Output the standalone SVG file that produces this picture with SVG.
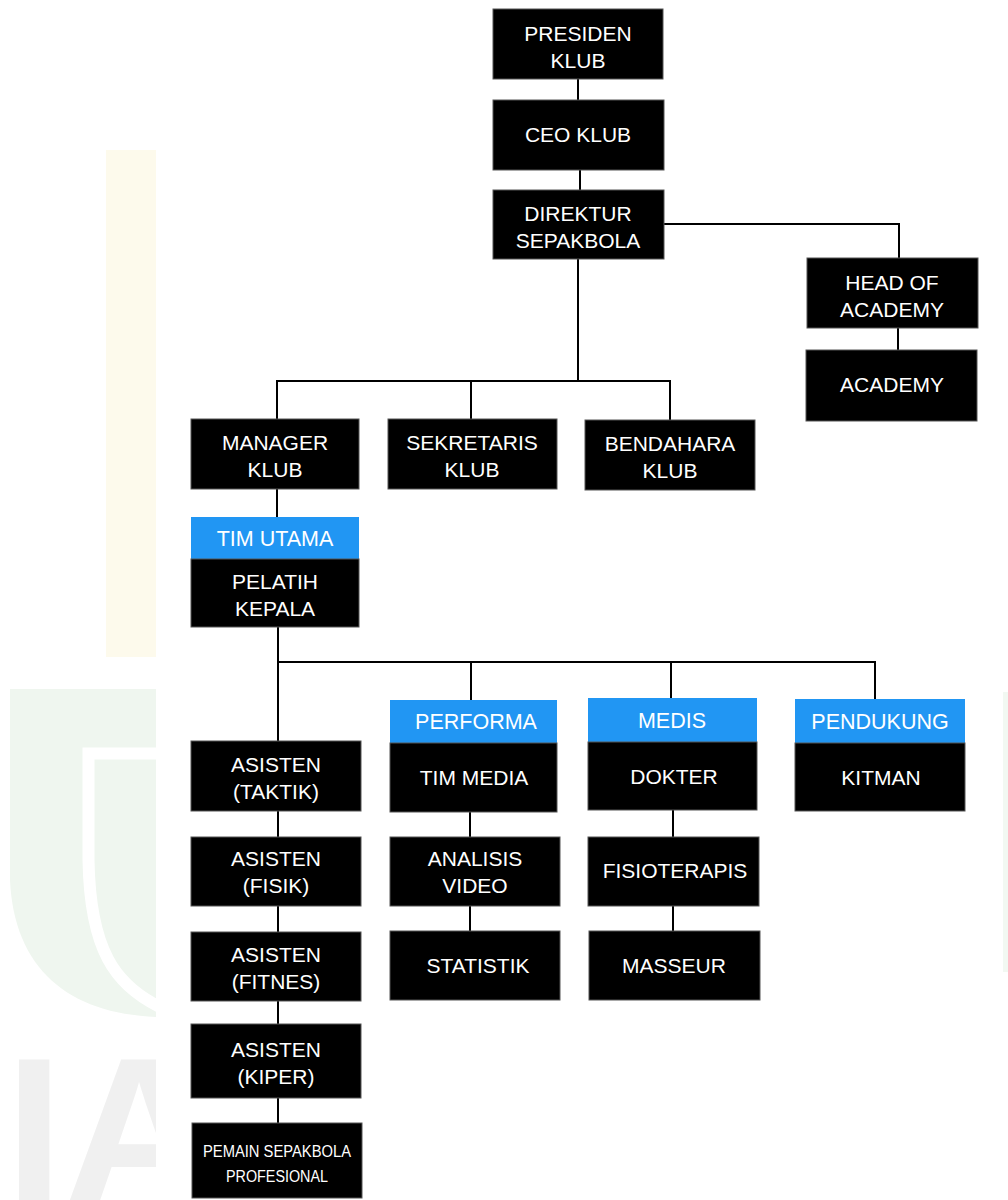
<svg xmlns="http://www.w3.org/2000/svg" width="1008" height="1200" viewBox="0 0 1008 1200">
<defs>
<style>
.box{fill:#000;stroke:#555;stroke-width:1}
.hdr{fill:#2196F3}
.t{font-family:"Liberation Sans",Arial,sans-serif;font-size:21px;fill:#fff;text-anchor:middle}
.h{font-family:"Liberation Sans",Arial,sans-serif;font-size:21.5px;fill:#fff;text-anchor:middle}
.c{fill:none;stroke:#000;stroke-width:2}
</style>
<clipPath id="wm"><rect x="0" y="0" width="156" height="1200"/></clipPath>
</defs>
<rect width="1008" height="1200" fill="#fff"/>
<g id="watermark">
<rect x="106" y="150" width="50" height="507" fill="#fdfaec"/>
<g clip-path="url(#wm)">
<path d="M10,689 H160 V1017 C70,1015 14,970 10,880 Z" fill="#eff6ef"/>
<path d="M160,753.5 H88.5 V860 C90,950 115,985 160,1007" fill="none" stroke="#fff" stroke-width="12"/>
<text x="5" y="1204" font-family="Liberation Sans,Arial,sans-serif" font-weight="bold" font-size="210" fill="#f0f0f0">IA</text>
</g>
<rect x="1003" y="692" width="5" height="280" fill="#f2f8f2"/>
</g>
<g id="connectors">
<path class="c" d="M578,79 V100"/>
<path class="c" d="M580,170 V190"/>
<path class="c" d="M578,259 V381"/>
<path class="c" d="M664,224 H899 V258"/>
<path class="c" d="M898,328 V350"/>
<path class="c" d="M277,419 V381 H670 V420"/>
<path class="c" d="M471,381 V419"/>
<path class="c" d="M277,489 V517"/>
<path class="c" d="M278,627 V741"/>
<path class="c" d="M278,662 H875 V699"/>
<path class="c" d="M471,662 V700"/>
<path class="c" d="M671,662 V698"/>
<path class="c" d="M278,811 V837"/>
<path class="c" d="M278,906 V932"/>
<path class="c" d="M278,1001 V1024"/>
<path class="c" d="M278,1098 V1123"/>
<path class="c" d="M470,812 V837"/>
<path class="c" d="M470,906 V931"/>
<path class="c" d="M673,810 V837"/>
<path class="c" d="M673,906 V931"/>
</g>
<g id="presiden"><rect class="box" x="493" y="9" width="170" height="70"/><text class="t" x="578" y="41">PRESIDEN</text><text class="t" x="578" y="68">KLUB</text></g>
<g id="ceo"><rect class="box" x="493" y="100" width="171" height="70"/><text class="t" x="578" y="142">CEO KLUB</text></g>
<g id="direktur"><rect class="box" x="493" y="190" width="171" height="69"/><text class="t" x="578" y="221">DIREKTUR</text><text class="t" x="578" y="248">SEPAKBOLA</text></g>
<g id="head-academy"><rect class="box" x="807" y="258" width="171" height="70"/><text class="t" x="892" y="290">HEAD OF</text><text class="t" x="892" y="317">ACADEMY</text></g>
<g id="academy"><rect class="box" x="806" y="350" width="171" height="71"/><text class="t" x="892" y="392">ACADEMY</text></g>
<g id="manager"><rect class="box" x="191" y="419" width="168" height="70"/><text class="t" x="275" y="450">MANAGER</text><text class="t" x="275" y="477">KLUB</text></g>
<g id="sekretaris"><rect class="box" x="388" y="419" width="169" height="70"/><text class="t" x="472" y="450">SEKRETARIS</text><text class="t" x="472" y="477">KLUB</text></g>
<g id="bendahara"><rect class="box" x="585" y="420" width="170" height="70"/><text class="t" x="670" y="451">BENDAHARA</text><text class="t" x="670" y="478">KLUB</text></g>
<g id="pelatih"><rect class="hdr" x="191" y="517" width="168" height="42"/><text class="h" x="275" y="546">TIM UTAMA</text><rect class="box" x="191" y="559" width="168" height="68"/><text class="t" x="275" y="589">PELATIH</text><text class="t" x="275" y="616">KEPALA</text></g>
<g id="asisten-taktik"><rect class="box" x="191" y="741" width="170" height="70"/><text class="t" x="276" y="772">ASISTEN</text><text class="t" x="276" y="799">(TAKTIK)</text></g>
<g id="tim-media"><rect class="hdr" x="390" y="700" width="167" height="43"/><text class="h" x="476" y="729">PERFORMA</text><rect class="box" x="390" y="743" width="167" height="69"/><text class="t" x="474" y="785">TIM MEDIA</text></g>
<g id="dokter"><rect class="hdr" x="588" y="698" width="169" height="44"/><text class="h" x="672" y="728">MEDIS</text><rect class="box" x="588" y="742" width="169" height="68"/><text class="t" x="674" y="784">DOKTER</text></g>
<g id="kitman"><rect class="hdr" x="795" y="699" width="170" height="44"/><text class="h" x="880" y="729">PENDUKUNG</text><rect class="box" x="795" y="743" width="170" height="68"/><text class="t" x="881" y="785">KITMAN</text></g>
<g id="asisten-fisik"><rect class="box" x="191" y="837" width="170" height="69"/><text class="t" x="276" y="866">ASISTEN</text><text class="t" x="276" y="893">(FISIK)</text></g>
<g id="analisis-video"><rect class="box" x="390" y="837" width="170" height="69"/><text class="t" x="475" y="866">ANALISIS</text><text class="t" x="475" y="893">VIDEO</text></g>
<g id="fisioterapis"><rect class="box" x="588" y="837" width="171" height="69"/><text class="t" x="675" y="878">FISIOTERAPIS</text></g>
<g id="asisten-fitnes"><rect class="box" x="191" y="932" width="170" height="69"/><text class="t" x="276" y="962">ASISTEN</text><text class="t" x="276" y="989">(FITNES)</text></g>
<g id="statistik"><rect class="box" x="390" y="931" width="170" height="69"/><text class="t" x="478" y="973">STATISTIK</text></g>
<g id="masseur"><rect class="box" x="589" y="931" width="171" height="69"/><text class="t" x="674" y="973">MASSEUR</text></g>
<g id="asisten-kiper"><rect class="box" x="191" y="1024" width="170" height="74"/><text class="t" x="276" y="1057">ASISTEN</text><text class="t" x="276" y="1084">(KIPER)</text></g>
<g id="pemain"><rect class="box" x="192" y="1123" width="170" height="75"/><text class="t" x="277" y="1157" style="font-size:16px" textLength="148" lengthAdjust="spacingAndGlyphs">PEMAIN SEPAKBOLA</text><text class="t" x="277" y="1182" style="font-size:16px" textLength="102" lengthAdjust="spacingAndGlyphs">PROFESIONAL</text></g>
</svg>
